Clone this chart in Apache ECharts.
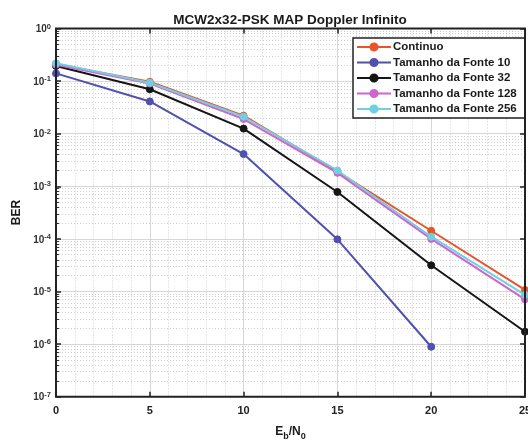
<!DOCTYPE html>
<html><head><meta charset="utf-8">
<script src="https://cdn.jsdelivr.net/npm/echarts@6/dist/echarts.min.js"></script>
<style>html,body{margin:0;padding:0;background:#fff}#c{width:528px;height:441px}</style>
</head><body><div id="c"></div>
<script>
const ebn0 = [0, 5, 10, 15, 20, 25];
const continuo = [0.21, 0.097, 0.022, 1.9e-3, 1.43e-4, 1.07e-5];
const fonte10 = [0.14, 0.041, 0.0041, 9.8e-5, 8.9e-7];
const fonte32 = [0.194, 0.070, 0.0125, 7.8e-4, 3.15e-5, 1.72e-6];
const fonte128 = [0.205, 0.090, 0.019, 1.8e-3, 1.0e-4, 7.1e-6];
const fonte256 = [0.218, 0.093, 0.021, 2.0e-3, 1.1e-4, 8.6e-6];
const seriesNames = ['Continuo', 'Tamanho da Fonte 10', 'Tamanho da Fonte 32', 'Tamanho da Fonte 128', 'Tamanho da Fonte 256'];
const seriesValues = [continuo, fonte10, fonte32, fonte128, fonte256];
const colors = ['#E8552A', '#5050B0', '#151515', '#CC66CC', '#72CFE2'];
const titleText = 'MCW2x32-PSK MAP Doppler Infinito';

const FONT = '"Liberation Sans", Arial, sans-serif';
const minorY = [];
for (let e = -7; e < 0; e++) for (let m = 2; m <= 9; m++) minorY.push(m * Math.pow(10, e));

const chart = echarts.init(document.getElementById('c'), null, {renderer: 'canvas'});
const series = seriesValues.map((vals, i) => ({
  name: seriesNames[i],
  type: 'line',
  xAxisIndex: 0, yAxisIndex: 0,
  data: vals.map((v, j) => [ebn0[j], v]),
  symbol: 'circle', symbolSize: 7,
  lineStyle: {width: 2, color: colors[i]},
  itemStyle: {color: colors[i], borderColor: colors[i], borderWidth: 1},
  clip: false,
  z: 3 + i
}));

chart.setOption({
  animation: false,
  backgroundColor: '#fff',
  color: colors,
  title: {
    text: titleText, left: 285, top: 8, textAlign: 'center',
    textStyle: {fontFamily: FONT, fontWeight: 'bold', fontSize: 13.5, color: '#1a1a1a'}
  },
  legend: {
    orient: 'vertical', left: 353, top: 38,
    itemWidth: 34, itemHeight: 9, itemGap: 3.5,
    padding: [3, 8, 3, 3],
    backgroundColor: '#fff', borderColor: '#222', borderWidth: 1.5,
    textStyle: {fontFamily: FONT, fontWeight: 'bold', fontSize: 11.5, color: '#1a1a1a', padding: [0, 0, 0, -3]},
    data: seriesNames, z: 20
  },
  grid: {left: 56, right: 3, top: 28.5, bottom: 44.3, containLabel: false, outerBoundsMode: 'none',
    show: true, borderColor: '#222', borderWidth: 2, backgroundColor: 'transparent', z: 10},
  xAxis: [{
    type: 'value', min: 0, max: 25, interval: 5,
    name: '{a|E}{s|b}{a|/N}{s|0}', nameLocation: 'middle', nameGap: 29,
    nameTextStyle: {rich: {
      a: {fontFamily: FONT, fontWeight: 'bold', fontSize: 12, color: '#1a1a1a', verticalAlign: 'top', lineHeight: 15},
      s: {fontFamily: FONT, fontWeight: 'bold', fontSize: 9, color: '#1a1a1a', verticalAlign: 'bottom', lineHeight: 15}
    }},
    axisLine: {show: false},
    axisTick: {show: true, inside: true, length: 5, lineStyle: {color: '#222', width: 1.5}},
    axisLabel: {margin: 9, fontFamily: FONT, fontWeight: 'bold', fontSize: 11, color: '#222'},
    splitLine: {show: true, lineStyle: {color: '#d6d6d6', width: 1}},
    minorTick: {show: false, splitNumber: 5},
    minorSplitLine: {show: true, lineStyle: {color: '#cfcfcf', width: 1, type: [1, 2]}}
  }, {
    type: 'value', min: 0, max: 25, interval: 5, position: 'top',
    axisLine: {show: false}, axisLabel: {show: false}, splitLine: {show: false},
    axisTick: {show: true, inside: true, length: 5, lineStyle: {color: '#222', width: 1.5}}
  }],
  yAxis: [{
    type: 'log', logBase: 10, min: 1e-7, max: 1,
    name: 'BER', nameLocation: 'middle', nameGap: 33,
    nameTextStyle: {fontFamily: FONT, fontWeight: 'bold', fontSize: 12, color: '#1a1a1a'},
    axisLine: {show: false},
    axisTick: {show: true, inside: true, length: 5, lineStyle: {color: '#222', width: 1.5}},
    axisLabel: {
      margin: 5, fontFamily: FONT,
      formatter: v => '{a|10}{s|' + Math.round(Math.log10(v)) + '}',
      rich: {
        a: {fontFamily: FONT, fontWeight: 'bold', fontSize: 10, color: '#333', verticalAlign: 'bottom', lineHeight: 12},
        s: {fontFamily: FONT, fontWeight: 'bold', fontSize: 7.5, color: '#333', verticalAlign: 'top', lineHeight: 12}
      }
    },
    splitLine: {show: true, lineStyle: {color: '#d6d6d6', width: 1}}
  }, {
    type: 'log', logBase: 10, min: 1e-7, max: 1, position: 'left',
    axisLine: {show: false}, axisLabel: {show: false},
    axisTick: {show: true, inside: true, length: 3, customValues: minorY, lineStyle: {color: '#333', width: 1}},
    splitLine: {show: true, lineStyle: {color: '#cfcfcf', width: 1, type: [1, 2]}}
  }, {
    type: 'log', logBase: 10, min: 1e-7, max: 1, position: 'right',
    axisLine: {show: false}, axisLabel: {show: false}, splitLine: {show: false},
    axisTick: {show: true, inside: true, length: 5, lineStyle: {color: '#222', width: 1.5}}
  }],
  series: series
});
</script></body></html>
